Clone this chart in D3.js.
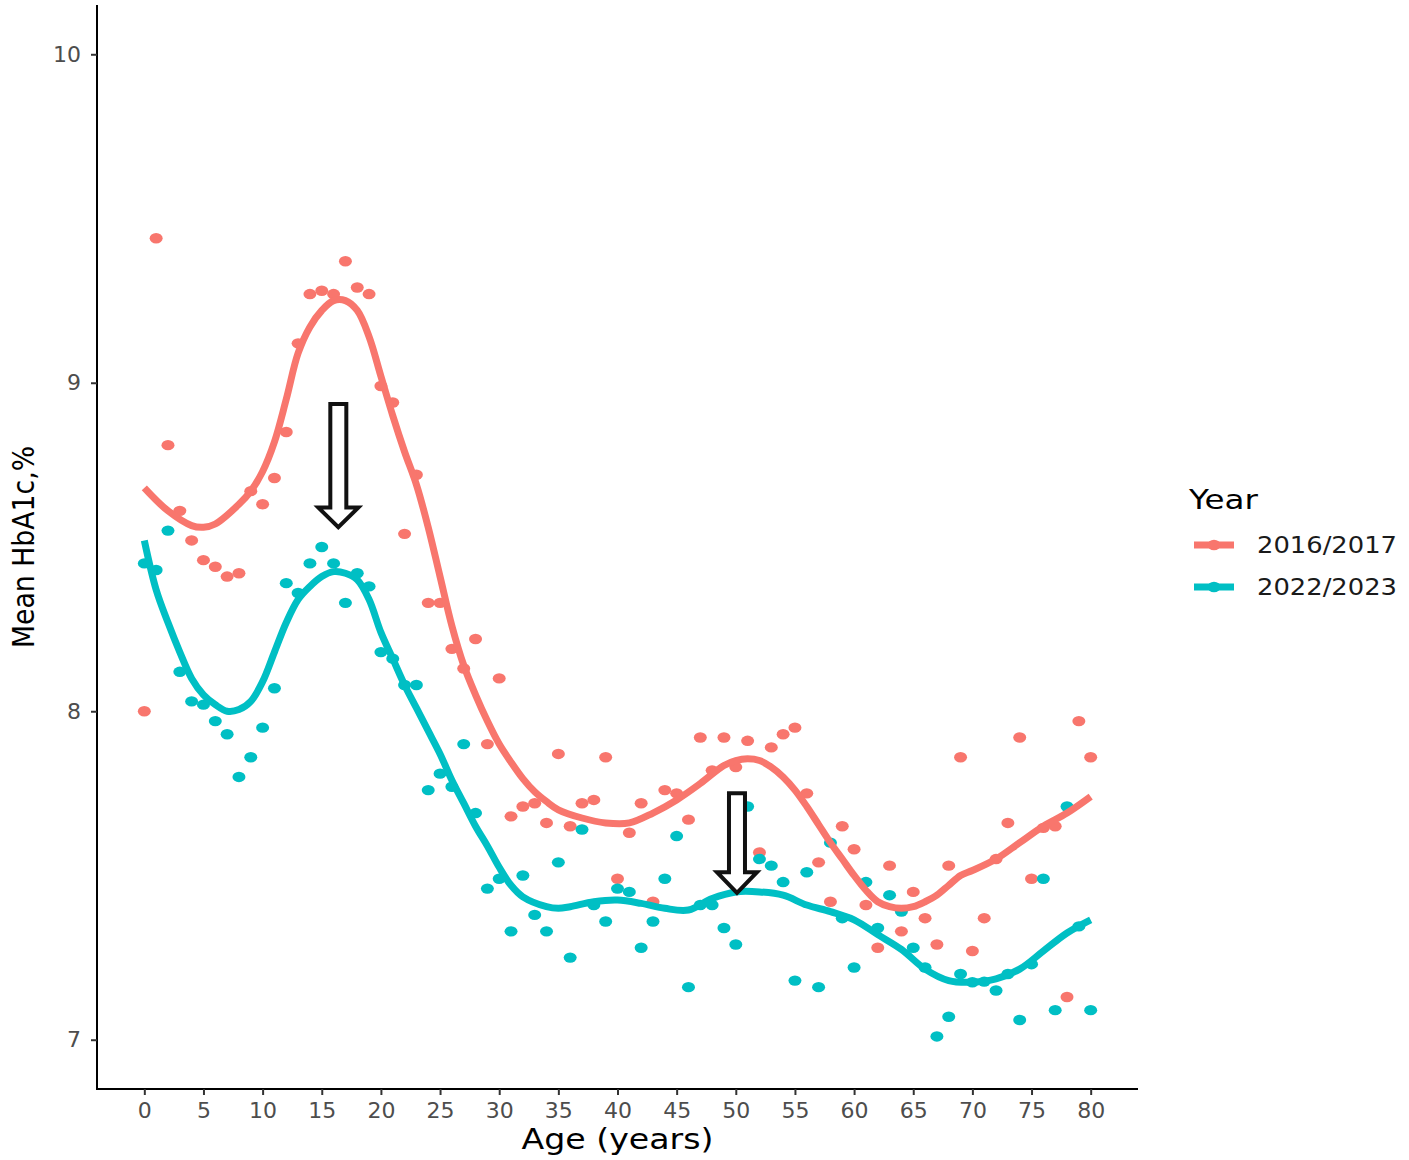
<!DOCTYPE html>
<html>
<head>
<meta charset="utf-8">
<script src="https://cdn.jsdelivr.net/npm/d3@7"></script>
<style>
  body { margin: 0; background: #fff; }
  svg { display: block; font-family: "DejaVu Sans", sans-serif; }
</style>
</head>
<body>
<svg id="chart" width="1409" height="1160"></svg>
<script>
// Ages (years) for the yearly means
const ages = [0,1,2,3,4,5,6,7,8,9,10,11,12,13,14,15,16,17,18,19,20,
  21,22,23,24,25,26,27,28,29,30,31,32,33,34,35,36,37,38,39,40,
  41,42,43,44,45,46,47,48,49,50,51,52,53,54,55,56,57,58,59,60,
  61,62,63,64,65,66,67,68,69,70,71,72,73,74,75,76,77,78,79,80];

// Mean HbA1c per age, 2016/2017
const mean2016 = [8.00,9.44,8.81,8.61,8.52,8.46,8.44,8.41,8.42,8.67,8.63,
  8.71,8.85,9.12,9.27,9.28,9.27,9.37,9.29,9.27,8.99,
  8.94,8.54,8.72,8.33,8.33,8.19,8.13,8.22,7.90,8.10,
  7.68,7.71,7.72,7.66,7.87,7.65,7.72,7.73,7.86,7.49,
  7.63,7.72,7.42,7.76,7.75,7.67,7.92,7.82,7.92,7.83,
  7.91,7.57,7.89,7.93,7.95,7.75,7.54,7.42,7.65,7.58,
  7.41,7.28,7.53,7.33,7.45,7.37,7.29,7.53,7.86,7.27,
  7.37,7.55,7.66,7.92,7.49,7.645,7.65,7.13,7.97,7.86];

// Mean HbA1c per age, 2022/2023
const mean2022 = [8.45,8.43,8.55,8.12,8.03,8.02,7.97,7.93,7.80,7.86,7.95,
  8.07,8.39,8.36,8.45,8.50,8.45,8.33,8.42,8.38,8.18,
  8.16,8.08,8.08,7.76,7.81,7.77,7.90,7.69,7.46,7.49,
  7.33,7.50,7.38,7.33,7.54,7.25,7.64,7.41,7.36,7.46,
  7.45,7.28,7.36,7.49,7.62,7.16,7.41,7.41,7.34,7.29,
  7.71,7.55,7.53,7.48,7.18,7.51,7.16,7.60,7.37,7.22,
  7.48,7.34,7.44,7.39,7.28,7.22,7.01,7.07,7.20,7.175,
  7.177,7.15,7.20,7.06,7.23,7.49,7.09,7.71,7.345,7.09];

// Smoothed trend
const smoothAges2016 = [0,2,4,5,6,8,9,10,11,12,13,14,15,16,17,18,19,20,21,22,23,24,25,26,27,28,29,30,
  31,32,33,34,35,37,39,41,43,45,47,49,50,51,52,53,54,55,56,57,58,59,60,61,62,63,64,65,66,67,68,69,70,72,74,76,78,80];
const smooth2016 = [8.68,8.61,8.565,8.56,8.57,8.63,8.67,8.73,8.82,8.95,9.09,9.17,9.22,9.25,9.25,9.22,9.14,9.02,8.90,8.79,8.69,8.56,8.41,8.26,8.14,8.05,7.97,7.90,
  7.845,7.795,7.755,7.725,7.70,7.675,7.66,7.66,7.69,7.73,7.78,7.835,7.85,7.855,7.85,7.83,7.80,7.76,7.71,7.655,7.60,7.55,7.50,7.455,7.42,7.405,7.40,7.405,7.42,7.44,7.47,7.50,7.515,7.55,7.60,7.65,7.69,7.74];

const smoothAges2022 = [0,1,2,3,4,5,6,7,8,9,10,11,12,13,14,15,16,17,18,19,20,21,22,23,24,25,26,27,28,29,30,
  31,32,34,35,36,38,40,42,44,46,48,50,52,54,56,58,60,62,64,66,68,70,72,74,76,78,80];
const smooth2022 = [8.52,8.37,8.27,8.18,8.10,8.05,8.02,8.00,8.005,8.03,8.09,8.18,8.27,8.34,8.38,8.41,8.425,8.42,8.40,8.34,8.24,8.16,8.08,8.01,7.94,7.87,7.79,7.72,7.65,7.59,7.525,
  7.47,7.435,7.405,7.40,7.405,7.42,7.425,7.415,7.40,7.395,7.43,7.45,7.45,7.44,7.41,7.39,7.365,7.32,7.275,7.215,7.18,7.175,7.185,7.215,7.27,7.325,7.365];

const yearLabels = ["2016/2017", "2022/2023"];
const colors = ["#F8766D", "#00BFC4"];
const xTicks = [0,5,10,15,20,25,30,35,40,45,50,55,60,65,70,75,80];
const yTicks = [7, 8, 9, 10];

// Arrow annotations: age, top value, head-base value, tip value
const arrows = [
  { age: 16.4, top: 8.935, base: 8.62, tip: 8.56 },
  { age: 50.1, top: 7.75, base: 7.51, tip: 7.447 }
];

const svg = d3.select("#chart");
const panel = { left: 97, right: 1138, top: 5, bottom: 1089 };

const x = d3.scaleLinear().domain([-4, 84]).range([panel.left, panel.right]);
const y = d3.scaleLinear().domain([6.85, 10.15]).range([panel.bottom, panel.top]);

// axes
const xAxis = svg.append("g")
  .attr("transform", `translate(0,${panel.bottom})`)
  .call(d3.axisBottom(x).tickValues(xTicks).tickFormat(d3.format("d"))
    .tickSize(6).tickPadding(4).tickSizeOuter(0));
const yAxis = svg.append("g")
  .attr("transform", `translate(${panel.left},0)`)
  .call(d3.axisLeft(y).tickValues(yTicks).tickFormat(d3.format("d"))
    .tickSize(6).tickPadding(10).tickSizeOuter(0));

[xAxis, yAxis].forEach(g => {
  g.select(".domain").attr("stroke", "#000").attr("stroke-width", 2);
  g.selectAll(".tick line").attr("stroke", "#333").attr("stroke-width", 2);
  g.selectAll(".tick text").attr("fill", "#4d4d4d").attr("font-family", "DejaVu Sans")
    .attr("font-size", 22);
});
xAxis.selectAll(".tick text").attr("dy", "0.85em");
// extend the axis lines to meet at the corner, like ggplot's axis.line
xAxis.select(".domain").attr("d", `M${panel.left - 1},0H${panel.right}`);
yAxis.select(".domain").attr("d", `M0,${panel.top}V${panel.bottom + 1}`);

// axis titles
svg.append("text")
  .attr("x", (panel.left + panel.right) / 2)
  .attr("y", 1149)
  .attr("text-anchor", "middle")
  .attr("font-size", 28)
  .attr("textLength", 192)
  .attr("lengthAdjust", "spacingAndGlyphs")
  .attr("fill", "#000")
  .text("Age (years)");

svg.append("text")
  .attr("transform", `translate(34,${(panel.top + panel.bottom) / 2}) rotate(-90)`)
  .attr("text-anchor", "middle")
  .attr("font-size", 30)
  .attr("textLength", 202)
  .attr("lengthAdjust", "spacingAndGlyphs")
  .attr("fill", "#000")
  .text("Mean HbA1c,%");

// points
const seriesPoints = [mean2016, mean2022];
seriesPoints.forEach((vals, i) => {
  svg.append("g").selectAll("ellipse")
    .data(ages.map((a, j) => ({ age: a, v: vals[j] })))
    .join("ellipse")
    .attr("cx", d => x(d.age))
    .attr("cy", d => y(d.v))
    .attr("rx", 6.5)
    .attr("ry", 5.2)
    .attr("fill", colors[i]);
});

// smoothed lines
const line = d3.line()
  .x(d => x(d.age))
  .y(d => y(d.v))
  .curve(d3.curveCatmullRom.alpha(0.5));

const smooths = [
  smoothAges2016.map((a, j) => ({ age: a, v: smooth2016[j] })),
  smoothAges2022.map((a, j) => ({ age: a, v: smooth2022[j] }))
];
smooths.forEach((pts, i) => {
  svg.append("path")
    .datum(pts)
    .attr("d", line)
    .attr("fill", "none")
    .attr("stroke", colors[i])
    .attr("stroke-width", 7)
    .attr("stroke-linecap", "butt")
    .attr("stroke-linejoin", "round");
});

// hollow down arrows
const shaftHalf = 8, headHalf = 20;
svg.append("g").selectAll("path")
  .data(arrows)
  .join("path")
  .attr("d", d => {
    const cx = x(d.age), yt = y(d.top), yb = y(d.base), yp = y(d.tip);
    return `M${cx - shaftHalf},${yt} H${cx + shaftHalf} V${yb} H${cx + headHalf} L${cx},${yp} L${cx - headHalf},${yb} H${cx - shaftHalf} Z`;
  })
  .attr("fill", "#fff")
  .attr("stroke", "#111")
  .attr("stroke-width", 4)
  .attr("stroke-linejoin", "miter");

// legend
const legend = svg.append("g");
legend.append("text")
  .attr("x", 1189)
  .attr("y", 509)
  .attr("font-size", 27)
  .attr("textLength", 69)
  .attr("lengthAdjust", "spacingAndGlyphs")
  .attr("fill", "#000")
  .text("Year");

yearLabels.forEach((lab, i) => {
  const ly = 545 + i * 42;
  legend.append("line")
    .attr("x1", 1194).attr("x2", 1234)
    .attr("y1", ly).attr("y2", ly)
    .attr("stroke", colors[i])
    .attr("stroke-width", 7);
  legend.append("ellipse")
    .attr("cx", 1214).attr("cy", ly)
    .attr("rx", 6.5).attr("ry", 5.2)
    .attr("fill", colors[i]);
  legend.append("text")
    .attr("x", 1257)
    .attr("y", ly + 8)
    .attr("font-size", 23)
    .attr("textLength", 140)
    .attr("lengthAdjust", "spacingAndGlyphs")
    .attr("fill", "#1a1a1a")
    .text(lab);
});
</script>
</body>
</html>
